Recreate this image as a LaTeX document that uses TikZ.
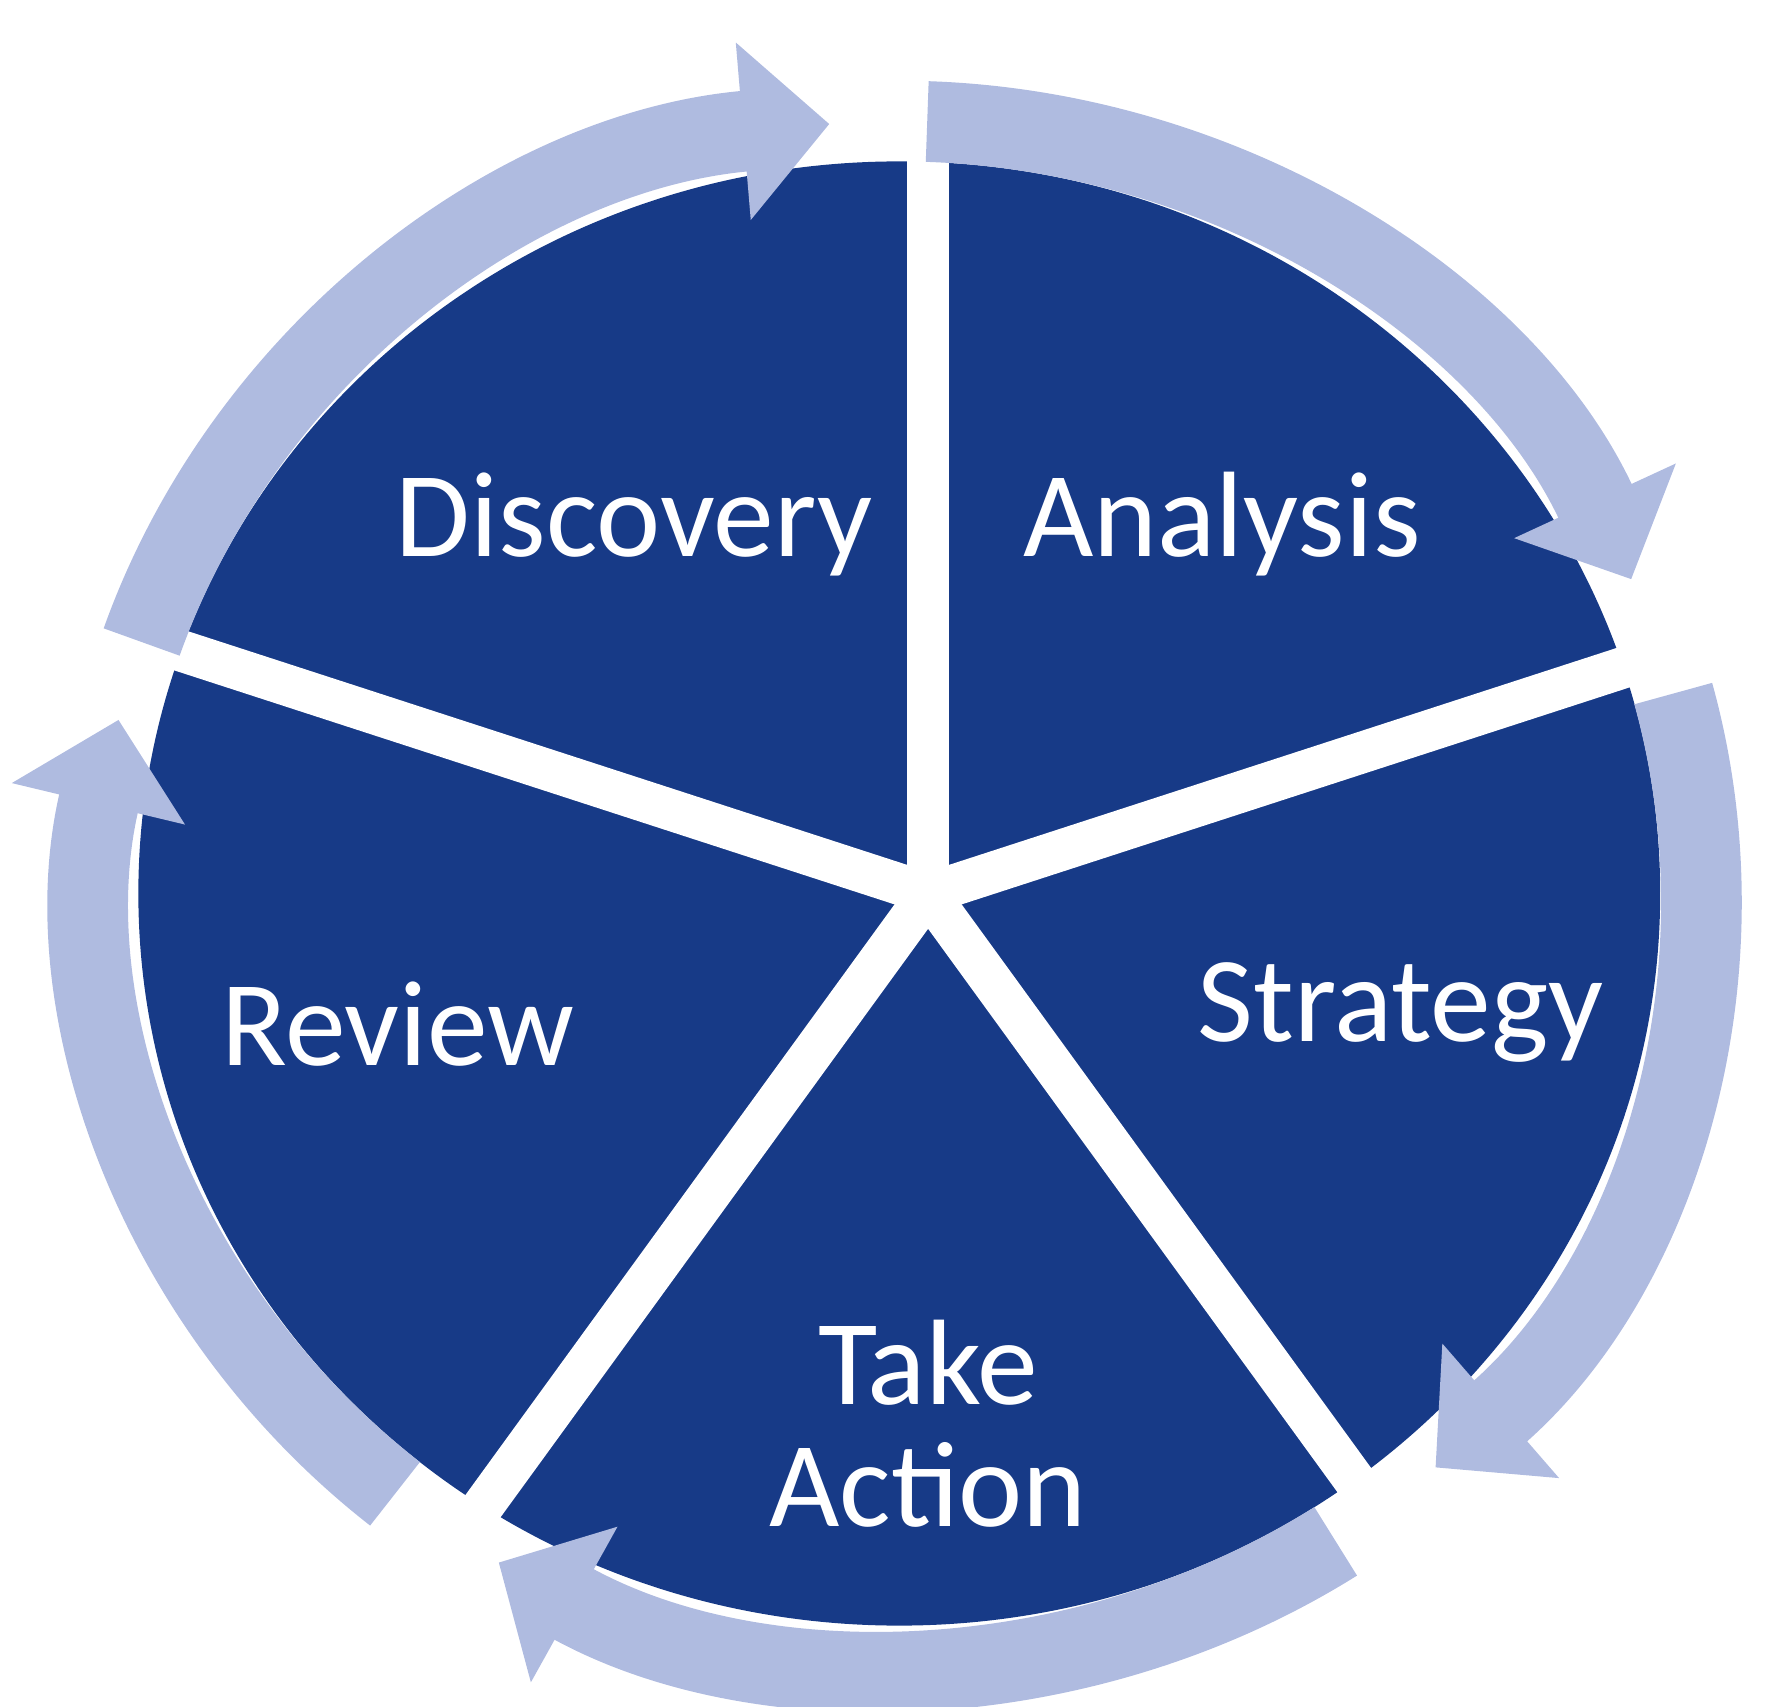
\documentclass[tikz,border=0pt]{standalone}
\usepackage{fontspec}
\setmainfont{Carlito}
\usetikzlibrary{arrows.meta,calc}
\definecolor{wedgeblue}{RGB}{23,58,135}
\definecolor{ringblue}{RGB}{175,187,224}
\tikzset{
  phase/.style={text=white, align=center, font=\fontsize{30}{34}\selectfont},
  ring/.style={draw=ringblue, line width=0.7cm,
    -{Triangle[width=1.5cm,length=0.75cm]}},
}
\begin{document}
\begin{tikzpicture}
    \useasboundingbox (0,0) rectangle (15.5,14.8);
    \coordinate (O) at (7.8,7.05);
    \coordinate (G) at (8.05,7.05);

    % wedges and gaps
    \fill[wedgeblue] (O) ellipse [x radius=6.6, y radius=6.35];
    \foreach \a in {90,18,-54,-126,162} {
      \draw[white, line width=0.36cm] (G) -- ++(\a:7.2);
    }

    % arrows round the cycle
    \foreach \s/\e in {161/95, 88/24, 15/-48, -57/-120, -129/-193} {
      \draw[ring] ($(O)+(\s:6.95 and 6.7)$) arc [start angle=\s, end angle=\e, x radius=6.95, y radius=6.7];
    }

    \node (disc) at (5.5,10.25) [phase] {Discovery};
    \node (anal) at (10.6,10.25) [phase] {Analysis};
    \node (strat) at (12.15,6.02) [phase] {Strategy};
    \node (act) at (8.05,2.45) [phase] {Take\\[-4pt]Action};
    \node (rev) at (3.45,5.92) [phase] {Review};
\end{tikzpicture}
\end{document}
